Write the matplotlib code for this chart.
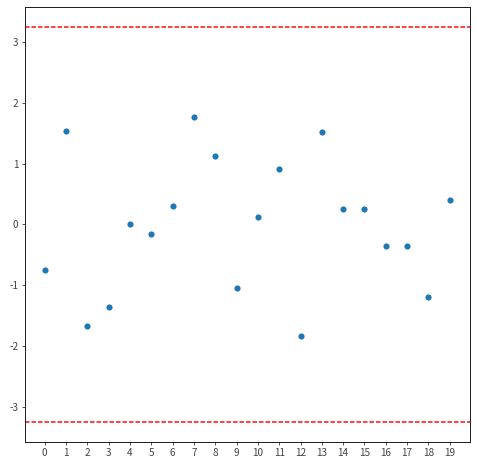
import matplotlib
matplotlib.use("Agg")
import matplotlib.pyplot as plt

plt.rcParams['font.family'] = ['Noto Sans CJK KR', 'DejaVu Sans']
plt.rcParams['axes.unicode_minus'] = False
plt.rcParams['lines.scale_dashes'] = False

x = list(range(20))
y = [-0.74, 1.53, -1.665, -1.35, 0.0, -0.15, 0.30, 1.76, 1.12, -1.04,
     0.13, 0.92, -1.83, 1.52, 0.26, 0.25, -0.35, -0.35, -1.19, 0.41]
limit = 3.25

DPI = 60
fig = plt.figure(figsize=(477 / DPI, 465 / DPI), dpi=DPI)
ax = fig.add_axes([24.5 / 477, 23 / 465, (470 - 24.5) / 477, (442 - 7) / 465])
ax.scatter(x, y, s=55, color='#1f77b4', linewidths=0)
for v in (limit, -limit):
    ax.axhline(v, color='#ff2020', linestyle=(0, (5.4, 2.4)), linewidth=2.0)
ax.set_xticks(x)
ax.set_xticklabels([str(v) for v in x])
ax.tick_params(colors='#333333', labelcolor='#444444', labelsize=12, length=4, width=1)
for s in ax.spines.values():
    s.set_color('#222222')
    s.set_linewidth(1.2)
fig.savefig('out.png', dpi=DPI)
